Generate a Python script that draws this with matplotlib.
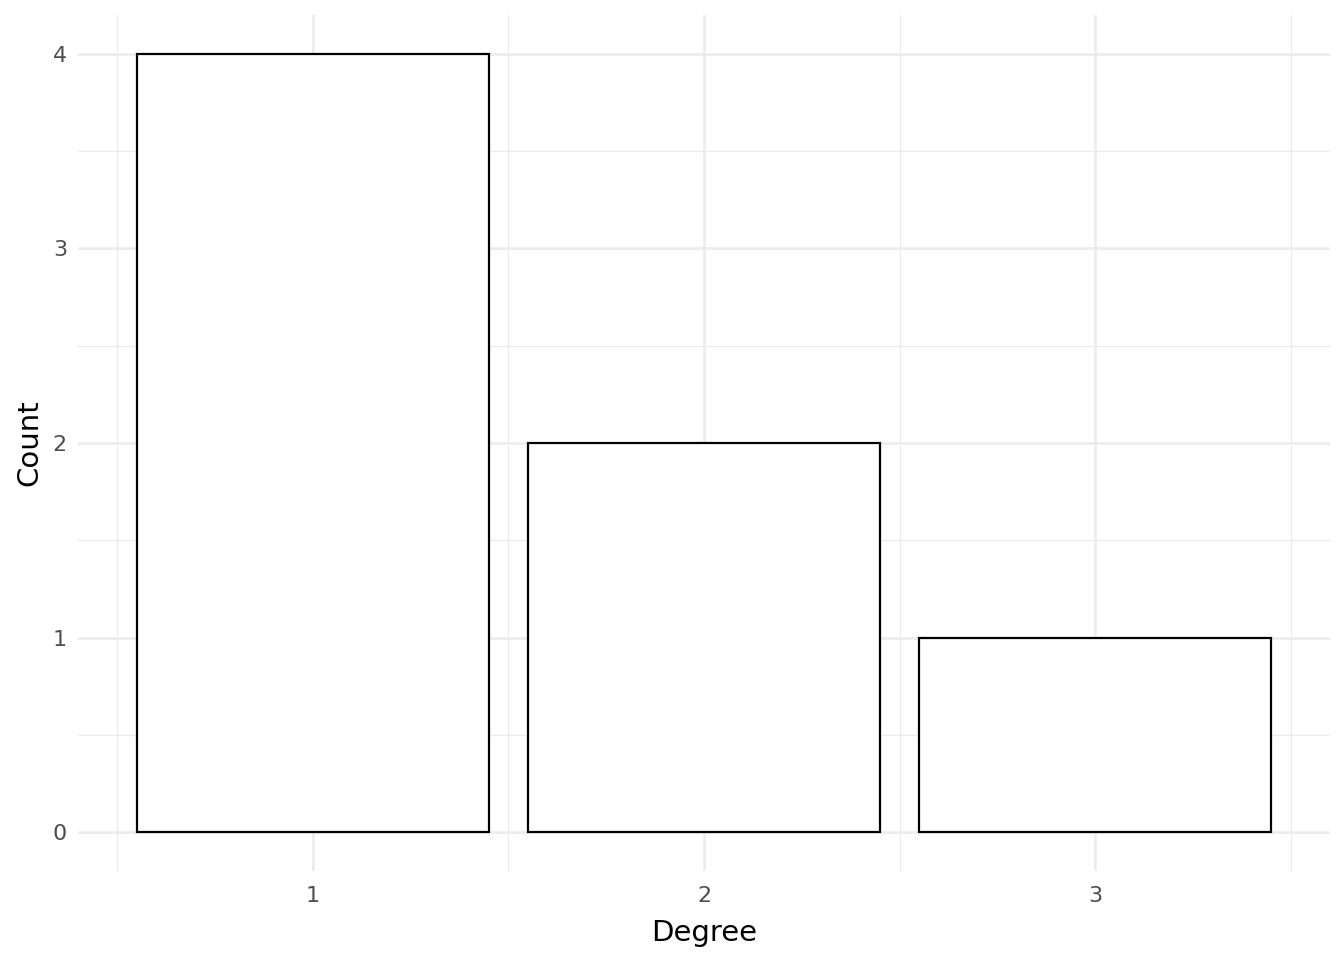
import matplotlib
matplotlib.use("Agg")
import matplotlib.pyplot as plt

degrees = [1, 2, 3]
counts = [4, 2, 1]
y_ticks = [0, 1, 2, 3, 4]

W, H = 1344, 960
fig = plt.figure(figsize=(W/100, H/100), dpi=100)
ax = fig.add_axes([78/W, (H-871)/H, (1330-78)/W, (871-15)/H])

ax.set_xlim(0.4, 3.6)
ax.set_ylim(-0.2, 4.2)

for m in [0.5, 1.5, 2.5, 3.5]:
    ax.axvline(m, color="#EBEBEB", lw=0.9, zorder=0)
    ax.axhline(m, color="#EBEBEB", lw=0.9, zorder=0)
for d in degrees:
    ax.axvline(d, color="#EBEBEB", lw=1.8, zorder=0)
for t in y_ticks:
    ax.axhline(t, color="#EBEBEB", lw=1.8, zorder=0)

ax.bar(degrees, counts, width=0.9, bottom=0, facecolor="white",
       edgecolor="black", linewidth=1.6, zorder=2)

for s in ax.spines.values():
    s.set_visible(False)
ax.set_xticks(degrees)
ax.set_xticklabels([str(d) for d in degrees])
ax.set_yticks(y_ticks)
ax.set_yticklabels([str(t) for t in y_ticks])
ax.tick_params(axis="x", length=0, labelsize=16, labelcolor="#4D4D4D", pad=11)
ax.tick_params(axis="y", length=0, labelsize=16, labelcolor="#4D4D4D", pad=8)
ax.set_xlabel("Degree", fontsize=21, labelpad=9)
ax.set_ylabel("Count", fontsize=21, labelpad=7)

fig.savefig("out.png", dpi=100, facecolor="white")
